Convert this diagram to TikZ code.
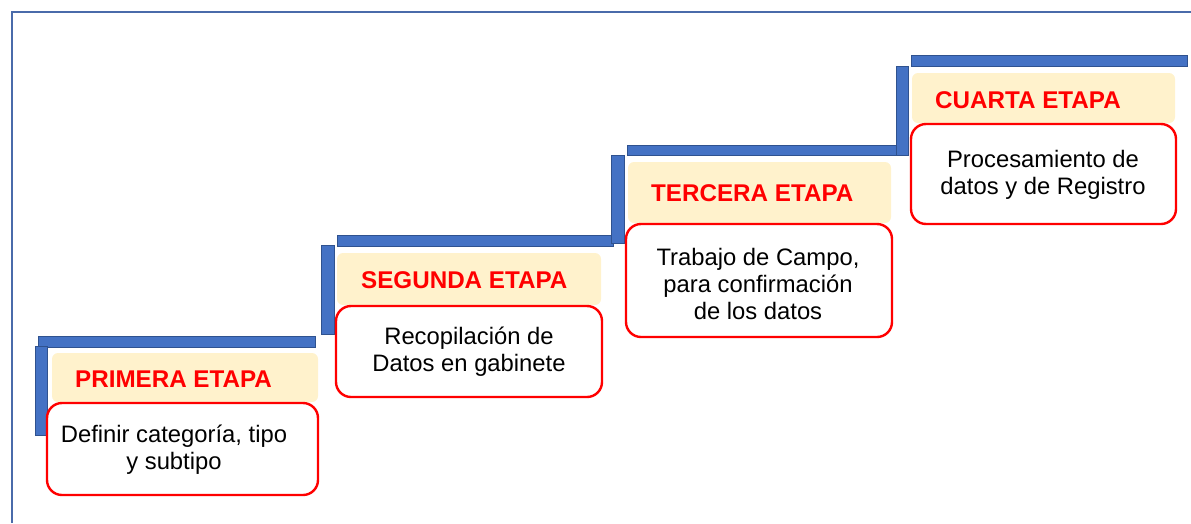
\documentclass[tikz,border=0pt]{standalone}
\usepackage{fontspec}
\setmainfont{Liberation Sans}
\definecolor{barfill}{HTML}{4472C4}
\definecolor{bardraw}{HTML}{2F528F}
\definecolor{gold}{HTML}{FFF2CC}
\definecolor{redline}{HTML}{FF0000}
\definecolor{framec}{HTML}{4A6BAA}
\tikzset{
  bar/.style={fill=barfill, draw=bardraw, line width=1pt},
  goldbox/.style={fill=gold, rounded corners=6pt},
  whitebox/.style={fill=white, draw=redline, line width=2.4pt, rounded corners=15pt},
  title/.style={anchor=west, inner sep=0pt, text=redline, font=\fontsize{24.2}{27}\selectfont\bfseries},
  body/.style={align=center, inner sep=0pt, font=\fontsize{23.8}{27}\selectfont},
}
\begin{document}
\begin{tikzpicture}[x=1pt,y=-1pt]
\useasboundingbox (0,0) rectangle (1191,523);
\draw[framec, line width=1.5pt] (12,523) -- (12,12) -- (1191,12);

% Stage 1
\draw[bar] (38,336) rectangle (315,347);
\draw[bar] (35,346) rectangle (47,435);
\fill[goldbox] (52,353) rectangle (318,402);
\draw[whitebox] (47,403) rectangle (318,495);
\node[title] (h1) at (75,379) {PRIMERA ETAPA};
\node[body] (t1) at (174,450) {Definir categoría, tipo\\y subtipo};

% Stage 2
\draw[bar] (337,235) rectangle (613,246);
\draw[bar] (321,245) rectangle (334,334);
\fill[goldbox] (337,253) rectangle (601,305);
\draw[whitebox] (336,306) rectangle (602,397);
\node[title] (h2) at (361,280) {SEGUNDA ETAPA};
\node[body] (t2) at (469,352) {Recopilación de\\Datos en gabinete};

% Stage 3
\draw[bar] (627,145) rectangle (897,155);
\draw[bar] (611,155) rectangle (624,243);
\fill[goldbox] (628,162) rectangle (891,223);
\draw[whitebox] (626,224) rectangle (892,337);
\node[title] (h3) at (651,193) {TERCERA ETAPA};
\node[body] (t3) at (758,284) {Trabajo de Campo,\\para confirmación\\de los datos};

% Stage 4
\draw[bar] (911,55) rectangle (1187,66);
\draw[bar] (896,66) rectangle (908,155);
\fill[goldbox] (912,73) rectangle (1175,123);
\draw[whitebox] (911,124) rectangle (1176,224);
\node[title] (h4) at (935,100) {CUARTA ETAPA};
\node[body] (t4) at (1043,175) {Procesamiento de\\datos y de Registro};
\end{tikzpicture}
\end{document}
